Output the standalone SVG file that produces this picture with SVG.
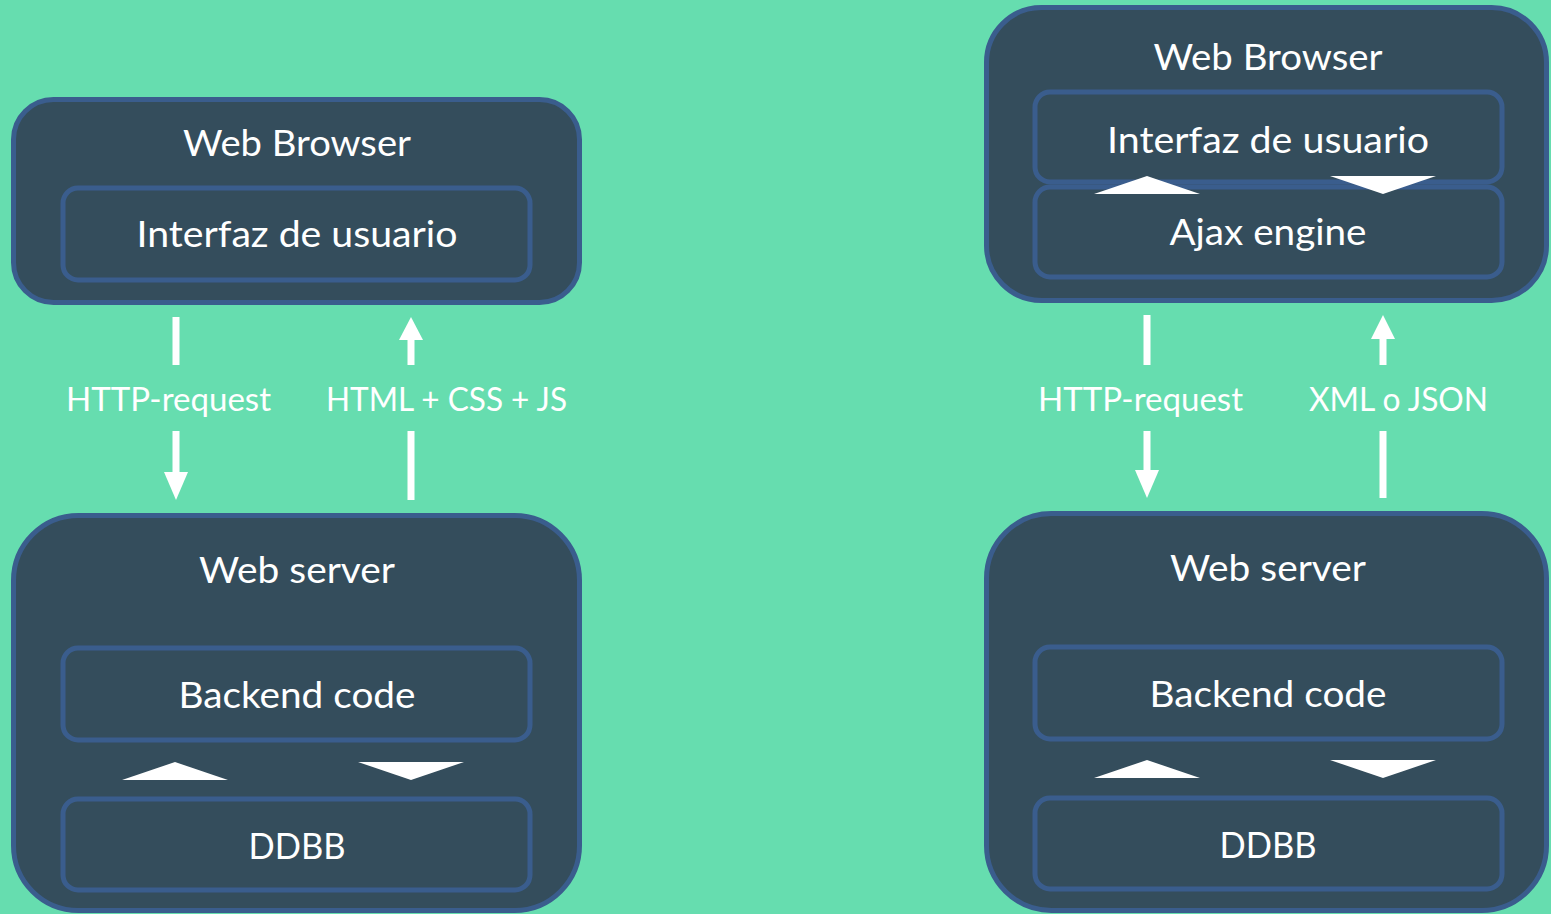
<svg xmlns="http://www.w3.org/2000/svg" width="1551" height="914" viewBox="0 0 1551 914">
<style>
.outer{fill:#344D5C;stroke:#3A5D8D;stroke-width:5}
.inner{fill:#344D5C;stroke:#3A5D8D;stroke-width:5}
.t{font-family:Lato,"Open Sans",sans-serif;fill:#ffffff;text-anchor:middle}
.big{font-size:37px}
.lbl{font-size:33px}
.w{fill:#ffffff}
</style>
<rect width="1551" height="914" fill="#66DDAF"/>

<g id="left-browser">
<rect class="outer" x="13.5" y="99.5" width="566" height="203" rx="40"/>
<text class="t big" x="297" y="156" textLength="228" lengthAdjust="spacingAndGlyphs">Web Browser</text>
</g>
<g id="left-ui">
<rect class="inner" x="63" y="188" width="467" height="92" rx="15"/>
<text class="t big" x="297" y="247" textLength="321" lengthAdjust="spacingAndGlyphs">Interfaz de usuario</text>
</g>
<g id="left-server">
<rect class="outer" x="13.5" y="515.5" width="566" height="395" rx="65"/>
<text class="t big" x="297" y="583" textLength="196" lengthAdjust="spacingAndGlyphs">Web server</text>
</g>
<g id="left-backend">
<rect class="inner" x="63" y="648" width="467" height="92" rx="15"/>
<text class="t big" x="297" y="708" textLength="237" lengthAdjust="spacingAndGlyphs">Backend code</text>
</g>
<g id="left-ddbb">
<rect class="inner" x="63" y="799" width="467" height="91" rx="15"/>
<text class="t big" x="297" y="859" textLength="97" lengthAdjust="spacingAndGlyphs">DDBB</text>
</g>

<g id="right-browser">
<rect class="outer" x="986.5" y="7.5" width="560" height="293" rx="55"/>
<text class="t big" x="1268" y="70" textLength="229" lengthAdjust="spacingAndGlyphs">Web Browser</text>
</g>
<g id="right-ui">
<rect class="inner" x="1035" y="92" width="467" height="90" rx="15"/>
<text class="t big" x="1268" y="153" textLength="322" lengthAdjust="spacingAndGlyphs">Interfaz de usuario</text>
</g>
<g id="right-ajax">
<rect class="inner" x="1035" y="187" width="467" height="90" rx="15"/>
<text class="t big" x="1268" y="245" textLength="197" lengthAdjust="spacingAndGlyphs">Ajax engine</text>
</g>
<g id="right-server">
<rect class="outer" x="986.5" y="513.5" width="560" height="397" rx="65"/>
<text class="t big" x="1268" y="581" textLength="196" lengthAdjust="spacingAndGlyphs">Web server</text>
</g>
<g id="right-backend">
<rect class="inner" x="1035" y="647" width="467" height="92" rx="15"/>
<text class="t big" x="1268" y="707" textLength="237" lengthAdjust="spacingAndGlyphs">Backend code</text>
</g>
<g id="right-ddbb">
<rect class="inner" x="1035" y="798" width="467" height="91" rx="15"/>
<text class="t big" x="1268" y="858" textLength="97" lengthAdjust="spacingAndGlyphs">DDBB</text>
</g>

<g id="connectors">
<!-- left down arrow -->
<rect class="w" x="172.5" y="317" width="7" height="48"/>
<rect class="w" x="172.5" y="431" width="7" height="42"/>
<polygon class="w" points="164,472 188,472 176,500"/>
<!-- left up arrow -->
<polygon class="w" points="399,340 423,340 411,317"/>
<rect class="w" x="407.5" y="339" width="7" height="26"/>
<rect class="w" x="407.5" y="431" width="7" height="69"/>
<!-- right down arrow -->
<rect class="w" x="1143.5" y="315" width="7" height="50"/>
<rect class="w" x="1143.5" y="431" width="7" height="40"/>
<polygon class="w" points="1135,470 1159,470 1147,498"/>
<!-- right up arrow -->
<polygon class="w" points="1371,339 1395,339 1383,315"/>
<rect class="w" x="1379.5" y="338" width="7" height="27"/>
<rect class="w" x="1379.5" y="431" width="7" height="67"/>
<!-- inner triangles -->
<polygon class="w" points="122,780 175,762 228,780"/>
<polygon class="w" points="358,762 464,762 411,780"/>
<polygon class="w" points="1094,778 1147,760 1200,778"/>
<polygon class="w" points="1330,760 1436,760 1383,778"/>
<polygon class="w" points="1094,194 1147,176 1200,194"/>
<polygon class="w" points="1330,176 1436,176 1383,194"/>
<!-- labels -->
<text class="t lbl" x="168.5" y="411" textLength="205" lengthAdjust="spacingAndGlyphs">HTTP-request</text>
<text class="t lbl" x="446.5" y="411" textLength="241" lengthAdjust="spacingAndGlyphs">HTML + CSS + JS</text>
<text class="t lbl" x="1140.5" y="411" textLength="205" lengthAdjust="spacingAndGlyphs">HTTP-request</text>
<text class="t lbl" x="1398.5" y="411" textLength="179" lengthAdjust="spacingAndGlyphs">XML o JSON</text>
</g>
</svg>
